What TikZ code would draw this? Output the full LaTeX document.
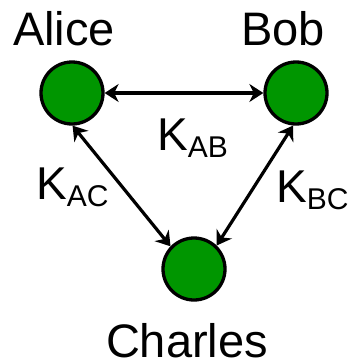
\documentclass[tikz,border=0pt]{standalone}
\usepackage{fontspec}
\setmainfont{Liberation Sans}
\usetikzlibrary{arrows.meta}
\definecolor{nodegreen}{RGB}{0,150,0}
\begin{document}
\begin{tikzpicture}[x=1pt,y=-1pt,
  party/.style={circle,draw=black,fill=nodegreen,line width=3.3pt,minimum size=62pt,inner sep=0pt},
  lbl/.style={font=\fontsize{47}{50}\selectfont,inner sep=0pt,anchor=base},
  key/.style={font=\fontsize{46}{50}\selectfont,inner sep=0pt,anchor=base west},
  link/.style={line width=3.2pt,{Stealth[length=14pt,width=18pt,inset=4.5pt]}-{Stealth[length=14pt,width=18pt,inset=4.5pt]}}
]
\useasboundingbox (0,0) rectangle (350,364);
\newcommand{\sub}[1]{{\fontsize{30}{30}\selectfont\raisebox{-7pt}{#1}}}
\node[party] (A) at (72,93) {};
\node[party] (B) at (296,93) {};
\node[party] (C) at (194,269) {};
\node[lbl] (la) at (64,45) {Alice};
\node[lbl] (lb) at (283,45) {Bob};
\node[lbl] (lc) at (187,357) {Charles};
\node[key] (kab) at (157,150) {K\sub{AB}};
\node[key] (kac) at (36,199) {K\sub{AC}};
\node[key] (kbc) at (276,202) {K\sub{BC}};
\draw[link] (A.east) -- (B.west);
\draw[link] (A.-89) -- (C.136);
\draw[link] (B.-95) -- (C.46);
\end{tikzpicture}
\end{document}
